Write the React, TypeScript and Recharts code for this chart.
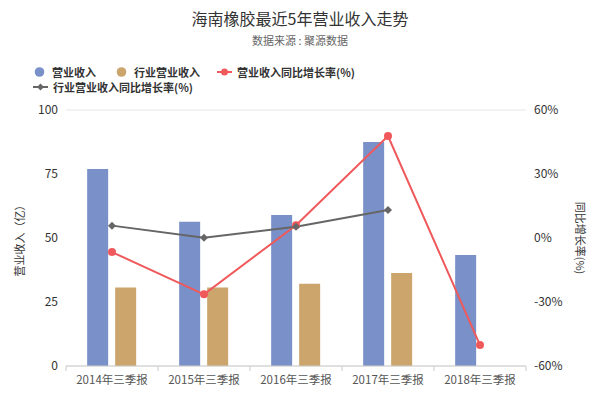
import React from 'react';
import { ComposedChart, Bar, Line, XAxis, YAxis, CartesianGrid } from 'recharts';

const categories = ['2014年三季报', '2015年三季报', '2016年三季报', '2017年三季报', '2018年三季报'];
const revenue = [77.0, 56.3, 59.0, 87.5, 43.4];
const industryRevenue = [30.7, 30.7, 32.1, 36.3, null];
const revenueGrowth = [-6.6, -26.4, 6.0, 47.8, -50.2];
const industryGrowth = [5.8, 0.1, 5.3, 13.1, null];

const leftTicks = [0, 25, 50, 75, 100];
const rightTicks = [-60, -30, 0, 30, 60];

const data = categories.map((name, i) => ({
  name,
  revenue: revenue[i],
  industryRevenue: industryRevenue[i],
  revenueGrowth: revenueGrowth[i],
  industryGrowth: industryGrowth[i],
}));

const FONT = '"Noto Sans CJK SC", "Noto Sans", sans-serif';
const BLUE = '#7990c8';
const TAN = '#cca56c';
const RED = '#f0595b';
const GRAY = '#666666';

const CategoryTick = (props: any) => {
  const { x, y, payload, index, width, visibleTicksCount } = props;
  const half = width / visibleTicksCount / 2;
  return (
    <g>
      <line x1={x - half} y1={y - 8} x2={x - half} y2={y - 3} stroke="#ccc" />
      {index === visibleTicksCount - 1 && (
        <line x1={x + half} y1={y - 8} x2={x + half} y2={y - 3} stroke="#ccc" />
      )}
      <text x={x} y={y + 10} textAnchor="middle" fill="#555" fontSize={11.5} fontFamily={FONT}>
        {payload.value}
      </text>
    </g>
  );
};

const Diamond = (props: any) => {
  const { cx, cy } = props;
  if (cx == null || cy == null) return null;
  return <path d={`M${cx},${cy - 4}L${cx + 4},${cy}L${cx},${cy + 4}L${cx - 4},${cy}Z`} fill={GRAY} />;
};

// legend entries: mark colour, mark kind, and where each one sits
const legendItems = [
  { label: '营业收入', color: BLUE, type: 'circle', left: 34, top: 65 },
  { label: '行业营业收入', color: TAN, type: 'circle', left: 116, top: 65 },
  { label: '营业收入同比增长率(%)', color: RED, type: 'line', left: 217, top: 65 },
  { label: '行业营业收入同比增长率(%)', color: GRAY, type: 'diamond', left: 33, top: 80 },
];

const LegendMark = ({ color, type }: { color: string; type: string }) => (
  <svg width={type === 'circle' ? 11 : 15} height={14} style={{ marginRight: type === 'circle' ? 7 : 5 }}>
    {type === 'circle' ? (
      <circle cx={5.5} cy={7} r={4.8} fill={color} />
    ) : (
      <>
        <line x1={0} y1={7} x2={15} y2={7} stroke={color} strokeWidth={2} />
        {type === 'diamond' ? (
          <path d="M7.5,3.5L11,7L7.5,10.5L4,7Z" fill={color} />
        ) : (
          <circle cx={7.5} cy={7} r={3.5} fill={color} />
        )}
      </>
    )}
  </svg>
);

export default function App() {
  return (
    <div style={{ position: 'absolute', left: 0, top: 0, width: 600, height: 400, background: '#fff', fontFamily: FONT }}>
      <div style={{ position: 'absolute', top: 7, width: 600, textAlign: 'center', fontSize: 16, lineHeight: '22px', color: '#333' }}>
        海南橡胶最近5年营业收入走势
      </div>
      <div style={{ position: 'absolute', top: 32, width: 600, textAlign: 'center', fontSize: 11, lineHeight: '16px', color: '#666' }}>
        数据来源 : 聚源数据
      </div>
      {legendItems.map((it) => (
        <div
          key={it.label}
          style={{
            position: 'absolute',
            left: it.left,
            top: it.top,
            height: 14,
            lineHeight: '14px',
            fontSize: 11,
            fontWeight: 'bold',
            color: '#333',
            display: 'flex',
            alignItems: 'center',
            whiteSpace: 'nowrap',
          }}
        >
          <LegendMark color={it.color} type={it.type} />
          {it.label}
        </div>
      ))}
      <div style={{ position: 'absolute', left: 0, top: 0 }}>
        <ComposedChart
          width={600}
          height={400}
          data={data}
          margin={{ top: 110, right: 24, left: 16, bottom: 4 }}
          barGap={7}
          barCategoryGap="23%"
        >
          <CartesianGrid vertical={false} stroke="#e6e6e6" />
          <XAxis
            dataKey="name"
            stroke="#ccc"
            tickLine={false}
            height={30}
            tick={<CategoryTick />}
            interval={0}
          />
          <YAxis
            yAxisId="left"
            domain={[0, 100]}
            ticks={leftTicks}
            axisLine={false}
            tickLine={false}
            width={50}
            tick={{ fill: '#333', fontSize: 12, fontFamily: FONT }}
            label={{
              value: '营业收入（亿）',
              angle: -90,
              position: 'insideLeft',
              offset: 4,
              style: { fill: '#333', fontSize: 11, fontFamily: FONT, textAnchor: 'middle' },
            }}
          />
          <YAxis
            yAxisId="right"
            orientation="right"
            domain={[-60, 60]}
            ticks={rightTicks}
            tickFormatter={(v: number) => `${v}%`}
            axisLine={false}
            tickLine={false}
            width={50}
            tick={{ fill: '#333', fontSize: 12, fontFamily: FONT }}
            label={{
              value: '同比增长率(%)',
              angle: 90,
              position: 'insideRight',
              offset: -4,
              style: { fill: '#333', fontSize: 11, fontFamily: FONT, textAnchor: 'middle' },
            }}
          />
          <Bar yAxisId="left" dataKey="revenue" fill={BLUE} isAnimationActive={false} />
          <Bar yAxisId="left" dataKey="industryRevenue" fill={TAN} isAnimationActive={false} />
          <Line
            yAxisId="right"
            dataKey="revenueGrowth"
            stroke={RED}
            strokeWidth={2}
            dot={{ r: 4, fill: RED, stroke: RED, strokeWidth: 0 }}
            isAnimationActive={false}
          />
          <Line
            yAxisId="right"
            dataKey="industryGrowth"
            stroke={GRAY}
            strokeWidth={2}
            dot={<Diamond />}
            isAnimationActive={false}
          />
        </ComposedChart>
      </div>
    </div>
  );
}
